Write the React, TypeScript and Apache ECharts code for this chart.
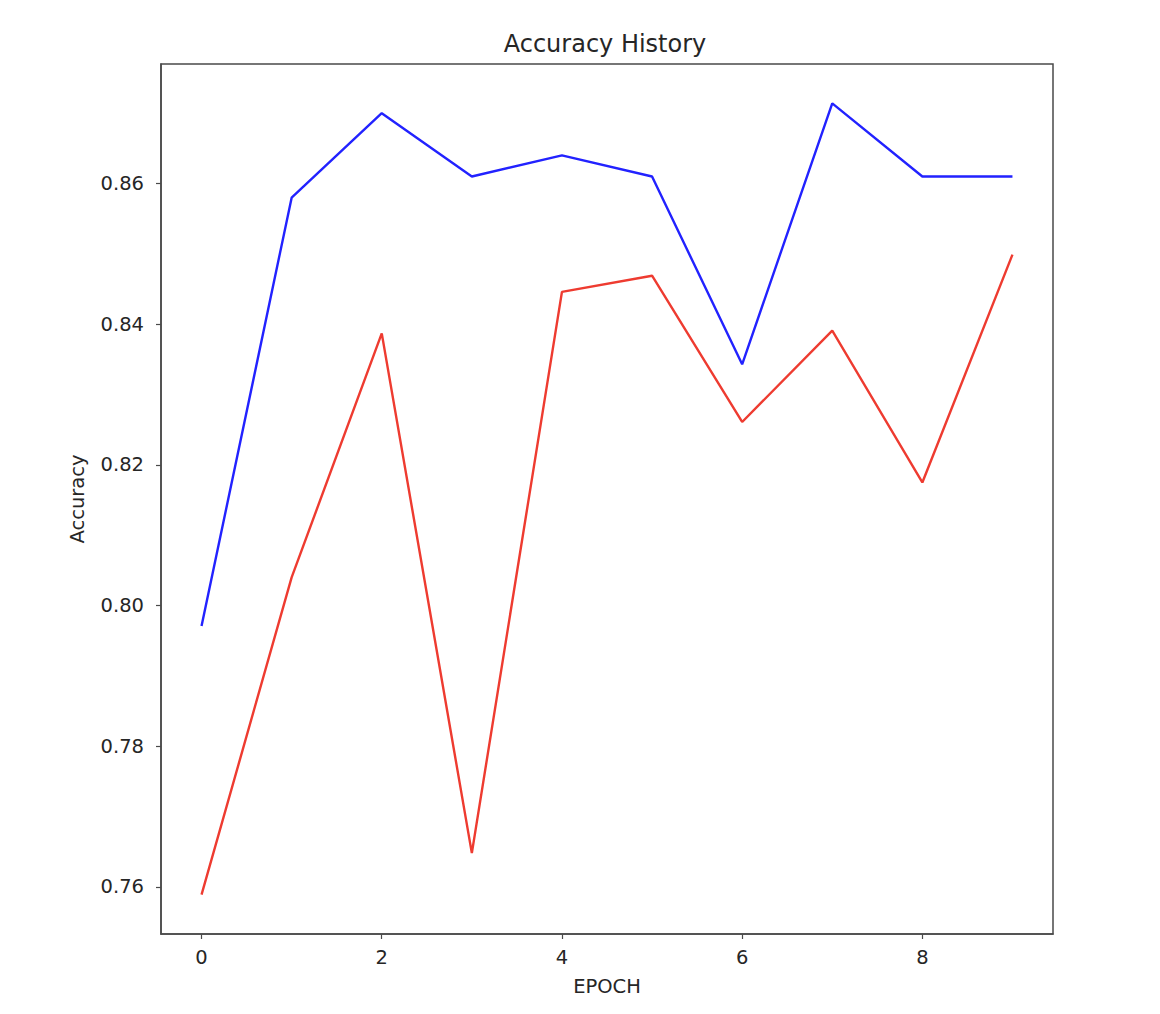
import React, { useEffect, useRef } from "react";
import * as echarts from "echarts";

const epochs = [0, 1, 2, 3, 4, 5, 6, 7, 8, 9];
const trainAcc = [0.7971, 0.858, 0.870, 0.861, 0.864, 0.861, 0.8343, 0.8714, 0.861, 0.861];
const valAcc = [0.7589, 0.804, 0.8387, 0.7648, 0.8446, 0.8469, 0.8261, 0.8391, 0.8175, 0.8499];
const xTicks = [0, 2, 4, 6, 8];
const yTicks = [0.76, 0.78, 0.8, 0.82, 0.84, 0.86];

const FONT = "DejaVu Sans";

export default function App() {
  const ref = useRef<HTMLDivElement>(null);
  useEffect(() => {
    const chart = echarts.init(ref.current!, null, { renderer: "svg" });
    const axisColor = "#4a4a4a";
    chart.setOption({
      animation: false,
      backgroundColor: "#ffffff",
      title: {
        text: "Accuracy History",
        left: 600,
        top: 27,
        textAlign: "center",
        textStyle: { fontFamily: FONT, fontSize: 24, fontWeight: "normal", color: "#262626" },
      },
      grid: {
        left: 161,
        top: 64,
        width: 892,
        height: 870,
        show: true,
        borderColor: axisColor,
        borderWidth: 1.5,
        backgroundColor: "transparent",
      },
      xAxis: {
        type: "value",
        min: -0.45,
        max: 9.45,
        name: "EPOCH",
        nameLocation: "middle",
        nameGap: 42,
        nameTextStyle: { fontFamily: FONT, fontSize: 19.5, color: "#262626" },
        splitLine: { show: false },
        axisLine: { show: true, onZero: false, lineStyle: { color: axisColor, width: 1.5 } },
        axisTick: { show: true, customValues: xTicks, length: 5, lineStyle: { color: axisColor, width: 1.2 } },
        axisLabel: {
          customValues: xTicks,
          margin: 13,
          fontFamily: FONT,
          fontSize: 19.5,
          color: "#262626",
        },
      },
      yAxis: {
        type: "value",
        min: 0.7533,
        max: 0.877,
        name: "Accuracy",
        nameLocation: "middle",
        nameGap: 74,
        nameRotate: 90,
        nameTextStyle: { fontFamily: FONT, fontSize: 19.5, color: "#262626" },
        splitLine: { show: false },
        axisLine: { show: true, onZero: false, lineStyle: { color: axisColor, width: 1.5 } },
        axisTick: { show: true, customValues: yTicks, length: 5, lineStyle: { color: axisColor, width: 1.2 } },
        axisLabel: {
          customValues: yTicks,
          margin: 17,
          fontFamily: FONT,
          fontSize: 19.5,
          color: "#262626",
          formatter: (v: number) => v.toFixed(2),
        },
      },
      series: [
        {
          type: "line",
          data: epochs.map((e, i) => [e, trainAcc[i]]),
          showSymbol: false,
          lineStyle: { color: "#2222ff", width: 2.4 },
          itemStyle: { color: "#2222ff" },
        },
        {
          type: "line",
          data: epochs.map((e, i) => [e, valAcc[i]]),
          showSymbol: false,
          lineStyle: { color: "#ee3b30", width: 2.4 },
          itemStyle: { color: "#ee3b30" },
        },
      ],
    });
    return () => chart.dispose();
  }, []);
  return (
    <div
      ref={ref}
      style={{ position: "absolute", left: 0, top: 0, width: 1160, height: 1014 }}
    />
  );
}
